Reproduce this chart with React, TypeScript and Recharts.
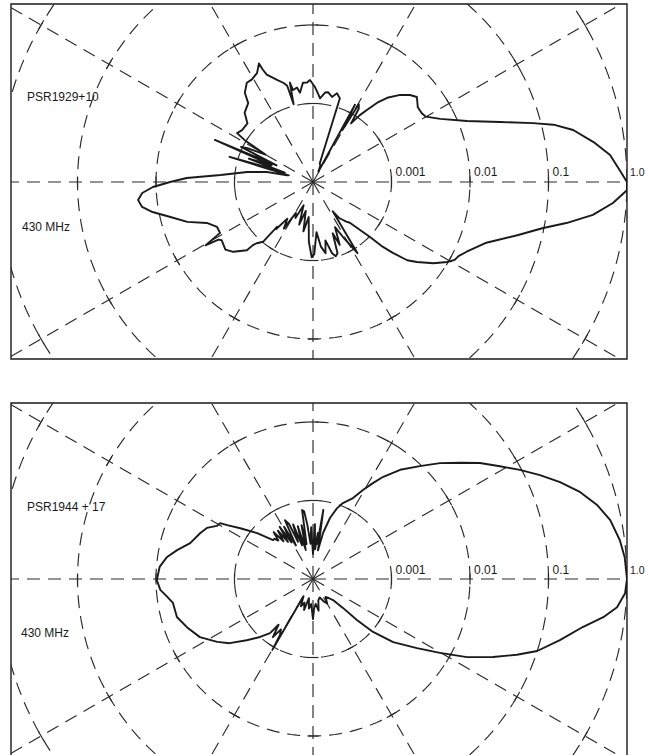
import React from 'react';
import { ScatterChart, Scatter, XAxis, YAxis, ReferenceArea } from 'recharts';

// Radial axis: log10 of relative intensity, centre of the plot = 1e-4
const FLOOR_LEVEL = -4;
const CIRCLE_LEVELS = [-3, -2, -1, 0];
const TICK_LABELS = ['0.001', '0.01', '0.1', '1.0'];
const SPOKE_ANGLES = [0, 30, 60, 90, 120, 150, 180, 210, 240, 270, 300, 330];

// PSR1929+10, 430 MHz : angle (deg, counter-clockwise from right) and log10 relative intensity
const psr1929Angles = [
  0, 2.2, 5.2, 8.1, 11.3, 13.4, 15, 17.8, 21.6, 26.4,
  30.1, 32.3, 35.5, 39.3, 41.9, 45, 48.6, 51, 53.1, 55,
  57, 58, 59.5, 60.5, 61.5, 62.5, 66, 70, 72.2, 74.9,
  77.4, 80.5, 82.3, 85.2, 86.8, 88.8, 91.7, 93.4, 95.8, 98.3,
  99.6, 102.3, 103.1, 104, 105, 106.7, 109.4, 113.3, 114.1, 114.5,
  117.2, 120.9, 123.7, 127.4, 129.4, 134.6, 138.2, 143.8, 147.2, 148.5,
  150, 152.7, 154, 155.5, 156.8, 158, 160, 161.5, 163.2, 164.5,
  165.5, 167.7, 171.4, 175.7, 178.2, 180, 181.8, 183.7, 185.9, 188.3,
  190.6, 193.8, 197.6, 201.1, 205.1, 208.7, 210.5, 211.4, 212.5, 217.7,
  221.2, 225.9, 226.4, 227.4, 230.2, 231.3, 232, 235, 238, 241,
  244, 248, 252, 256, 259, 263, 266, 269, 271, 274,
  277, 280, 282, 285, 287, 289, 291, 293, 296, 299,
  302, 304, 306, 308, 310, 312.1, 314.4, 316, 317.1, 318.4,
  320.3, 322.4, 326, 329.2, 331.2, 333, 335.6, 340.7, 345.4, 348.7,
  350.8, 353.3, 356, 358.5, 360,
];
const psr1929Levels = [
  0, -0.09, -0.2, -0.39, -0.62, -0.85, -1.1, -1.5, -1.89, -2.19,
  -2.34, -2.36, -2.36, -2.29, -2.34, -2.43, -2.57, -2.7, -2.85, -2.96,
  -3.11, -2.9, -2.85, -3.24, -2.88, -3.85, -3.77, -3.75, -2.88, -2.83,
  -2.89, -2.84, -2.85, -2.93, -2.87, -2.79, -2.7, -2.73, -2.73, -2.85,
  -2.78, -2.8, -2.7, -2.98, -2.73, -2.68, -2.62, -2.51, -2.43, -2.34,
  -2.44, -2.48, -2.48, -2.57, -2.7, -2.76, -2.88, -2.88, -2.85, -2.98,
  -3.3, -3.06, -2.98, -3.49, -2.64, -3.43, -3.13, -3.62, -2.89, -3.68,
  -3.66, -3.4, -3.15, -2.82, -2.39, -2.18, -1.96, -1.82, -1.76, -1.8,
  -1.92, -2.13, -2.32, -2.55, -2.65, -2.65, -2.41, -2.59, -2.62, -2.59,
  -2.65, -2.79, -2.89, -2.94, -3.01, -3.27, -3.24, -3.43, -3.3, -3.55,
  -3.49, -3.68, -3.43, -3.62, -3.36, -3.55, -3.24, -3.04, -3.08, -3.36,
  -3.17, -3.08, -3.24, -3.06, -3.01, -3.04, -3.3, -3.13, -3.36, -3.17,
  -2.93, -3.55, -3.43, -3.39, -3.34, -3.3, -3.15, -2.99, -2.79, -2.64,
  -2.44, -2.33, -2.15, -2.01, -1.94, -1.92, -1.85, -1.66, -1.31, -1.01,
  -0.73, -0.41, -0.17, 0, 0,
];

// PSR1944+17, 430 MHz
const psr1944Angles = [
  0, 4, 7.2, 11.2, 14.6, 18, 21.4, 24.6, 27.8, 31.1,
  34.8, 38.3, 42.4, 46.6, 51.4, 55.5, 58, 60.7, 63.7, 68.5,
  71.3, 74.4, 77.7, 80.2, 81.5, 83, 84, 86, 88, 90,
  92, 94, 96, 97.5, 99, 100.5, 102, 104, 106, 108,
  110, 112, 113.5, 115.5, 117, 119, 120.5, 122.5, 124, 126,
  128, 130, 132, 134, 135.7, 140.6, 145.1, 147.9, 149, 151.1,
  154.3, 157.8, 163.7, 168, 171.4, 175.5, 180.4, 184.1, 187, 189.7,
  195.6, 200.9, 207.2, 213.3, 217.6, 222.7, 227.6, 231.5, 233, 235.4,
  237.5, 239.5, 240.2, 241, 246, 250, 254, 258, 262, 266,
  270, 272, 276, 280, 284, 290, 296, 300, 305, 310,
  313.6, 316, 317, 318.6, 321.8, 326.4, 329.8, 333.1, 336.6, 339.6,
  342.2, 346.1, 349.9, 352.5, 354.7, 357.4, 360,
];
const psr1944Levels = [
  0, -0.02, -0.06, -0.14, -0.26, -0.42, -0.62, -0.82, -1.02, -1.22,
  -1.41, -1.61, -1.81, -2.02, -2.22, -2.42, -2.56, -2.7, -2.85, -2.96,
  -3.05, -3.19, -3.4, -3.63, -3.11, -3.55, -3.41, -3.62, -3.3, -3.68,
  -3.34, -3.55, -3.3, -3.13, -3.11, -3.55, -3.3, -3.62, -3.3, -3.55,
  -3.26, -3.49, -3.24, -3.17, -3.52, -3.24, -3.46, -3.21, -3.43, -3.24,
  -3.39, -3.22, -3.34, -3.29, -3.29, -3.08, -2.87, -2.71, -2.62, -2.6,
  -2.5, -2.45, -2.37, -2.23, -2.12, -2.04, -2.01, -2.05, -2.13, -2.19,
  -2.2, -2.28, -2.38, -2.54, -2.66, -2.85, -3, -3.12, -3.27, -3.1,
  -3.24, -3.17, -2.96, -3.75, -3.62, -3.68, -3.59, -3.75, -3.62, -3.68,
  -3.49, -3.62, -3.68, -3.59, -3.72, -3.75, -3.68, -3.64, -3.72, -3.68,
  -3.63, -3.47, -3.23, -2.98, -2.7, -2.41, -2.13, -1.8, -1.5, -1.23,
  -1.0, -0.76, -0.51, -0.27, -0.11, -0.02, 0,
];

// ---- layout (pixels) ----
const W = 646;
const PX_PER_DECADE = 78.5;
const CENTER_X = 313;
const BOX_LEFT = 11;
const BOX_RIGHT = 627;
const INK = '#1a1a1a';
const GRID = '#2a2a2a';
const FONT = '"Liberation Sans", Arial, Helvetica, sans-serif';

const rad = (d: number) => (d * Math.PI) / 180;
const toXY = (angle: number, level: number) => {
  const r = level - FLOOR_LEVEL;
  return { x: r * Math.cos(rad(angle)), y: r * Math.sin(rad(angle)), angle };
};

const patternData = (angles: number[], levels: number[]) =>
  angles.map((a, i) => toXY(a, levels[i]));

const circleData = (level: number) => {
  const pts = [];
  for (let a = 0; a <= 360; a += 2) pts.push(toXY(a, level));
  return pts;
};

const spokeData = (angle: number) => [toXY(angle, FLOOR_LEVEL), toXY(angle, 2.5)];

const tickData = SPOKE_ANGLES.flatMap((a) => CIRCLE_LEVELS.map((l) => toXY(a, l)));

const EmptyShape = () => <g />;

const TickShape = (props: any) => {
  const { cx, cy, payload } = props;
  if (cx == null || cy == null) return <g />;
  const a = rad(payload.angle);
  const h = 5.5;
  const dx = Math.sin(a) * h;
  const dy = Math.cos(a) * h;
  return <line x1={cx - dx} y1={cy - dy} x2={cx + dx} y2={cy + dy} stroke={GRID} strokeWidth={1.2} />;
};

type PanelProps = {
  angles: number[];
  levels: number[];
  svgTop: number;
  svgHeight: number;
  boxTop: number;
  boxBottom: number;
  centerY: number;
};

function Panel({ angles, levels, svgTop, svgHeight, boxTop, boxBottom, centerY }: PanelProps) {
  const xDomain = [(BOX_LEFT - CENTER_X) / PX_PER_DECADE, (BOX_RIGHT - CENTER_X) / PX_PER_DECADE];
  const yDomain = [-(boxBottom - centerY) / PX_PER_DECADE, (centerY - boxTop) / PX_PER_DECADE];
  const margin = {
    top: boxTop - svgTop,
    bottom: svgTop + svgHeight - boxBottom,
    left: BOX_LEFT,
    right: W - BOX_RIGHT,
  };
  const dashed = { stroke: GRID, strokeWidth: 1.15, strokeDasharray: '13 8' };
  return (
    <div style={{ position: 'absolute', left: 0, top: svgTop }}>
      <ScatterChart width={W} height={svgHeight} margin={margin}>
        <XAxis type="number" dataKey="x" domain={xDomain} allowDataOverflow hide />
        <YAxis type="number" dataKey="y" domain={yDomain} allowDataOverflow hide />
        {CIRCLE_LEVELS.map((l) => (
          <Scatter
            key={`c${l}`}
            data={circleData(l)}
            fill="none"
            line={dashed}
            shape={EmptyShape}
            isAnimationActive={false}
          />
        ))}
        {SPOKE_ANGLES.map((a) => (
          <Scatter
            key={`s${a}`}
            data={spokeData(a)}
            fill="none"
            line={dashed}
            shape={EmptyShape}
            isAnimationActive={false}
          />
        ))}
        <Scatter data={tickData} fill="none" shape={TickShape} isAnimationActive={false} />
        <Scatter
          data={patternData(angles, levels)}
          fill="none"
          line={{ stroke: INK, strokeWidth: 1.9, strokeLinejoin: 'round' }}
          shape={EmptyShape}
          isAnimationActive={false}
        />
        <ReferenceArea
          x1={xDomain[0]}
          x2={xDomain[1]}
          y1={yDomain[0]}
          y2={yDomain[1]}
          fill="none"
          fillOpacity={0}
          stroke={INK}
          strokeWidth={1.4}
          ifOverflow="visible"
        />
      </ScatterChart>
    </div>
  );
}

type LabelSet = { name: string; nameX: number; nameY: number; freqX: number; freqY: number; tickY: number };

function Labels({ set }: { set: LabelSet }) {
  const tickX = CIRCLE_LEVELS.map((l, i) =>
    i === CIRCLE_LEVELS.length - 1 ? 630 : CENTER_X + (l - FLOOR_LEVEL) * PX_PER_DECADE + 4
  );
  return (
    <g fontFamily={FONT} fontSize={12} fill={INK}>
      <text x={set.nameX} y={set.nameY}>{set.name}</text>
      <text x={set.freqX} y={set.freqY}>430 MHz</text>
      {TICK_LABELS.map((t, i) => (
        <text key={t} x={tickX[i]} y={set.tickY} fontSize={i === TICK_LABELS.length - 1 ? 10.5 : 12}>
          {t}
        </text>
      ))}
    </g>
  );
}

const topLabels: LabelSet = { name: 'PSR1929+10', nameX: 27, nameY: 101, freqX: 22, freqY: 231, tickY: 176 };
const bottomLabels: LabelSet = { name: 'PSR1944 + 17', nameX: 27, nameY: 511, freqX: 21, freqY: 637, tickY: 574 };

export default function App() {
  return (
    <div style={{ position: 'absolute', left: 0, top: 0, width: W, height: 755, overflow: 'hidden', background: '#fff' }}>
      <Panel angles={psr1929Angles} levels={psr1929Levels} svgTop={0} svgHeight={380} boxTop={4} boxBottom={359} centerY={182} />
      <Panel angles={psr1944Angles} levels={psr1944Levels} svgTop={380} svgHeight={380} boxTop={403} boxBottom={760} centerY={579} />
      <svg width={W} height={755} style={{ position: 'absolute', left: 0, top: 0, pointerEvents: 'none' }}>
        <Labels set={topLabels} />
        <Labels set={bottomLabels} />
      </svg>
    </div>
  );
}
